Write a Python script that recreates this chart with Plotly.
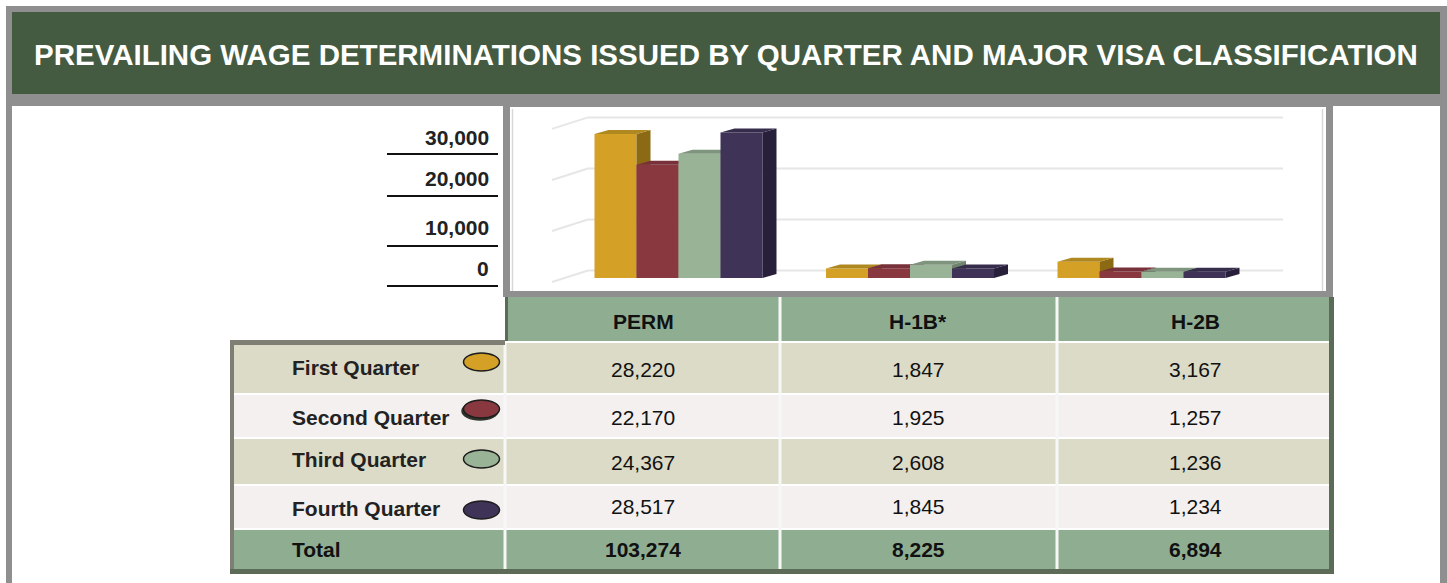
import plotly.graph_objects as go

W, H = 1447, 583

# ---------------- data ----------------
title_text = "PREVAILING WAGE DETERMINATIONS ISSUED BY QUARTER AND MAJOR VISA CLASSIFICATION"
visa_types = ["PERM", "H-1B*", "H-2B"]
quarters = ["First Quarter", "Second Quarter", "Third Quarter", "Fourth Quarter"]
perm = [28220, 22170, 24367, 28517]
h1b = [1847, 1925, 2608, 1845]
h2b = [3167, 1257, 1236, 1234]
totals = [103274, 8225, 6894]
y_ticks = [30000, 20000, 10000, 0]
y_tick_labels = ["30,000", "20,000", "10,000", "0"]

# ---------------- styling ----------------
FONT = "Liberation Sans, Arial, Helvetica, sans-serif"
front_cols = ["#D4A126", "#8A3840", "#98B396", "#403358"]
side_cols = ["#8C6A14", "#5E2128", "#6F836D", "#28203A"]
top_cols = ["#B08820", "#78303A", "#7E947C", "#362C4C"]
HEADER_GREEN = "#445B41"
FRAME_GRAY = "#8F8F8F"
TABLE_GREEN = "#8FAE91"
BEIGE = "#DCDBC7"
LIGHT = "#F3F0EF"
DARK_EDGE = "#5B6B58"


def px(x):
    return x / W


def py(y):
    return 1 - y / H


# pixel geometry of plot area / axis scaling
PLOT_L, PLOT_R, PLOT_T, PLOT_B = 510, 1326, 107, 291
CAT0_PX, PX_PER_CAT = 678.5, 231.5
BASE_PX, PX_PER_UNIT = 278.0, 0.005103
xr0 = (PLOT_L - CAT0_PX) / PX_PER_CAT
xr1 = (PLOT_R - CAT0_PX) / PX_PER_CAT
yr0 = (BASE_PX - PLOT_B) / PX_PER_UNIT
yr1 = (BASE_PX - PLOT_T) / PX_PER_UNIT

BW = 42 / PX_PER_CAT          # bar width in category units
DX = 14 / PX_PER_CAT          # 3D depth (x)
DY = 4 / PX_PER_UNIT          # 3D depth (y)

fig = go.Figure()

series = [[perm[i], h1b[i], h2b[i]] for i in range(4)]
cat_idx = list(range(len(visa_types)))

for q in range(4):
    ax = "" if q == 0 else str(q + 1)
    xa, ya = "x" + ax, "y" + ax
    vals = series[q]
    fig.add_trace(go.Bar(
        x=cat_idx, y=vals, width=BW, offset=(q - 2) * BW,
        marker=dict(color=front_cols[q], line=dict(width=0)),
        name=quarters[q], xaxis=xa, yaxis=ya, showlegend=False, hoverinfo="skip"))
    sx, sy, tx, ty = [], [], [], []
    for k, h in zip(cat_idx, vals):
        xl = k + (q - 2) * BW
        xr = xl + BW
        sx += [xr, xr + DX, xr + DX, xr, xr, None]
        sy += [0, DY, h + DY, h, 0, None]
        tx += [xl, xl + DX, xr + DX, xr, xl, None]
        ty += [h, h + DY, h + DY, h, h, None]
    fig.add_trace(go.Scatter(x=sx, y=sy, fill="toself", fillcolor=side_cols[q], mode="none",
                             xaxis=xa, yaxis=ya, showlegend=False, hoverinfo="skip"))
    fig.add_trace(go.Scatter(x=tx, y=ty, fill="toself", fillcolor=top_cols[q], mode="none",
                             xaxis=xa, yaxis=ya, showlegend=False, hoverinfo="skip"))

layout_axes = {}
for q in range(4):
    sfx = "" if q == 0 else str(q + 1)
    xd = dict(domain=[px(PLOT_L), px(PLOT_R)], range=[xr0, xr1], visible=False, fixedrange=True)
    yd = dict(domain=[py(PLOT_B), py(PLOT_T)], range=[yr0, yr1], visible=False, fixedrange=True)
    if q > 0:
        xd.update(overlaying="x", anchor="y" + sfx)
        yd.update(overlaying="y", anchor="x" + sfx)
    layout_axes["xaxis" + sfx] = xd
    layout_axes["yaxis" + sfx] = yd

shapes = []


def rect(x0, y0, x1, y1, fill, layer="below"):
    shapes.append(dict(type="rect", xref="paper", yref="paper", x0=px(x0), x1=px(x1),
                       y0=py(y1), y1=py(y0), fillcolor=fill, line=dict(width=0), layer=layer))


def hline(x0, x1, y, color, width):
    shapes.append(dict(type="line", xref="paper", yref="paper", x0=px(x0), x1=px(x1),
                       y0=py(y), y1=py(y), line=dict(color=color, width=width), layer="above"))


# outer frame and header
rect(6, 6, 1447, 583, FRAME_GRAY)
rect(12, 12, 1440, 94, HEADER_GREEN)
rect(12, 106, 1440, 583, "white")

# chart panel
rect(503, 106, 1333, 297, FRAME_GRAY)
rect(510, 107, 1326, 291, "white")
shapes.append(dict(type="line", xref="paper", yref="paper", x0=px(512.5), x1=px(512.5),
                   y0=py(291), y1=py(109), line=dict(color="#D8D8D8", width=1.5), layer="below"))
shapes.append(dict(type="line", xref="paper", yref="paper", x0=px(1322.5), x1=px(1322.5),
                   y0=py(291), y1=py(109), line=dict(color="#D8D8D8", width=1.5), layer="below"))

# gridlines (back wall + left wall) in data coordinates
WALL_FX = (552 - CAT0_PX) / PX_PER_CAT
WALL_BX = (588 - CAT0_PX) / PX_PER_CAT
WALL_RX = (1283 - CAT0_PX) / PX_PER_CAT
FRONT_OFF = -4 / PX_PER_UNIT
BACK_OFF = 7.5 / PX_PER_UNIT
for t in y_ticks:
    shapes.append(dict(type="line", xref="x", yref="y", x0=WALL_FX, x1=WALL_BX,
                       y0=t + FRONT_OFF, y1=t + BACK_OFF,
                       line=dict(color="#E6E6E6", width=2), layer="below"))
    shapes.append(dict(type="line", xref="x", yref="y", x0=WALL_BX, x1=WALL_RX,
                       y0=t + BACK_OFF, y1=t + BACK_OFF,
                       line=dict(color="#E6E6E6", width=2), layer="below"))

# table header row
rect(505, 297, 1333, 341, TABLE_GREEN)
rect(505, 297, 508, 341, DARK_EDGE)
# table body
row_bounds = [(343, 393), (395, 437), (439, 484), (486, 528)]
row_fills = [BEIGE, LIGHT, BEIGE, LIGHT]
for (y0, y1), f in zip(row_bounds, row_fills):
    rect(233, y0, 1330, y1, f)
rect(233, 530, 1330, 570, TABLE_GREEN)
# white separators
for xv in (505, 780, 1057):
    rect(xv - 1.5, 343 if xv == 505 else 297, xv + 1.5, 570, "#F7F7F7")
rect(505, 341, 1330, 343, "white")
# dark edges of table
rect(230, 340, 505, 345, "#7E7E74")
rect(230, 340, 234, 572, "#7E7E74")
rect(230, 569, 1333, 574, DARK_EDGE)
rect(1329, 297, 1334, 574, DARK_EDGE)

# y tick label underlines
for yy in (154, 196, 246, 286):
    hline(387, 498, yy, "#111111", 2)

# legend ellipses
ell_centers = [362, 409, 459, 510]
for q, cy in enumerate(ell_centers):
    if q == 1:
        shapes.append(dict(type="circle", xref="paper", yref="paper",
                           x0=px(462), x1=px(498), y0=py(cy + 11), y1=py(cy - 7),
                           fillcolor="#2E332B", line=dict(color="#2E332B", width=1.5), layer="above"))
    shapes.append(dict(type="circle", xref="paper", yref="paper",
                       x0=px(463.5), x1=px(499.5), y0=py(cy + 9), y1=py(cy - 9),
                       fillcolor=front_cols[q], line=dict(color="#1E1E1E", width=1.5), layer="above"))

annotations = []


def text(x, y, s, size=21, bold=False, color="#1A1A1A", anchor="center"):
    annotations.append(dict(x=px(x), y=py(y), xref="paper", yref="paper", text=s, showarrow=False,
                            xanchor=anchor, yanchor="middle",
                            font=dict(family=FONT, size=size, color=color,
                                      weight="bold" if bold else "normal")))


text(726, 54, title_text, size=29.5, bold=True, color="white")

for lab, yy in zip(y_tick_labels, (137, 178, 227, 268)):
    text(491, yy, lab, size=21, bold=True, color="#222222", anchor="right")

col_centers = [643, 918, 1195]
for c, v in zip(col_centers, visa_types):
    text(c, 321, v, bold=True, color="#111111")

label_y = [367, 417, 459, 508]
value_y = [369, 417, 462, 507]
for i, q in enumerate(quarters):
    text(290, label_y[i], q, bold=True, color="#222222", anchor="left")
    for c, vals in zip(col_centers, (perm, h1b, h2b)):
        text(c, value_y[i], f"{vals[i]:,}", color="#111111")
text(290, 549, "Total", bold=True, color="#111111", anchor="left")
for c, v in zip(col_centers, totals):
    text(c, 549, f"{v:,}", bold=True, color="#111111")

fig.update_layout(
    width=W, height=H, margin=dict(l=0, r=0, t=0, b=0),
    paper_bgcolor="white", plot_bgcolor="rgba(0,0,0,0)",
    barmode="overlay", showlegend=False,
    shapes=shapes, annotations=annotations,
    **layout_axes,
)

fig.write_html("out.html", config={"displayModeBar": False},
               post_script="document.body.style.margin='0';document.body.style.overflow='hidden';")
